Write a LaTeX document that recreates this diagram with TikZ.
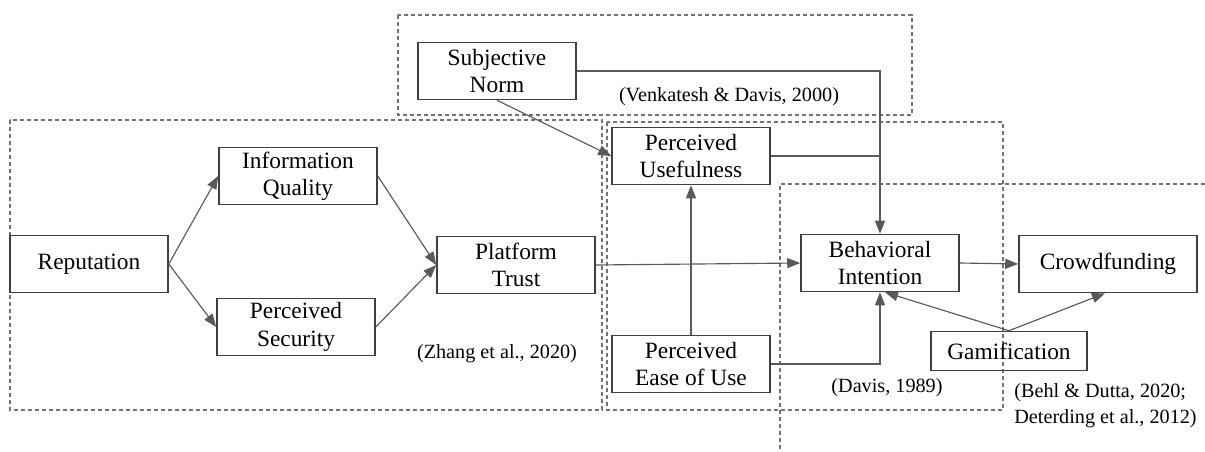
\documentclass[tikz,border=0pt]{standalone}
\usepackage{fontspec}
\setmainfont{Liberation Serif}
\usetikzlibrary{arrows.meta,positioning}

\begin{document}
\begin{tikzpicture}[
    x=0.02cm, y=-0.02cm,
    box/.style={draw=black!75, line width=0.9pt, minimum width=3.16cm, minimum height=1.14cm, align=center, inner sep=1pt, font=\fontsize{13.3}{15.5}\selectfont},
    cite/.style={align=left, inner sep=0pt, font=\fontsize{11.5}{14.8}\selectfont},
    frame/.style={draw=black!55, dashed, dash pattern=on 0.8mm off 0.6mm, line width=0.6pt},
    link/.style={draw=black!65, line width=0.65pt},
    arr/.style={link, -{Triangle[length=2.6mm, width=2mm]}}
]
    \useasboundingbox (0,0) rectangle (1205,452);

    % dashed frames
    \draw[frame] (398,15) rectangle (912,115);
    \draw[frame] (10,120) rectangle (602,410);
    \draw[frame] (607,122) rectangle (1003,410);
    \draw[frame] (1205,184) -- (780,184) -- (780,452);

    % constructs
    \node[box] (sn) at (497,71) {Subjective\\Norm};
    \node[box] (pu) at (691,156) {Perceived\\Usefulness};
    \node[box] (iq) at (298,176) {Information\\Quality};
    \node[box] (rep) at (89,264) {Reputation};
    \node[box] (ps) at (296,327) {Perceived\\Security};
    \node[box] (pt) at (516,265) {Platform\\Trust};
    \node[box] (peou) at (691,364) {Perceived\\Ease of Use};
    \node[box] (bi) at (880,263) {Behavioral\\Intention};
    \node[box, minimum width=3.56cm] (cf) at (1108,264) {Crowdfunding};
    \node[box, minimum width=3.12cm, minimum height=0.78cm] (gam) at (1009,351) {Gamification};

    % sources
    \node[cite] (vd) at (729,97) {(Venkatesh \& Davis, 2000)};
    \node[cite] (zh) at (497,354) {(Zhang et al., 2020)};
    \node[cite] (dv) at (887,388) {(Davis, 1989)};
    \node[cite, anchor=west] (bd) at (1014,406) {(Behl \& Dutta, 2020;\\Deterding et al., 2012)};

    \coordinate (jn) at (bi.north |- pu.east);

    \draw[arr] (rep.east) -- (iq.west);
    \draw[arr] (rep.east) -- (ps.west);
    \draw[arr] (iq.east) -- (pt.west);
    \draw[arr] (ps.east) -- (pt.west);
    \draw[arr] (pt.east) -- (bi.west);
    \draw[arr] (sn.south) -- (pu.west);
    \draw[arr] (sn.east) -| (bi.north);
    \draw[link] (pu.east) -- (jn);
    \draw[arr] (peou.north) -- (pu.south);
    \draw[arr] (peou.east) -| (bi.south);
    \draw[arr] (bi.east) -- (cf.west);
    \draw[arr] (gam.north) -- ([xshift=0.1cm]bi.south);
    \draw[arr] (gam.north) -- ([xshift=-0.06cm]cf.south);
\end{tikzpicture}
\end{document}
